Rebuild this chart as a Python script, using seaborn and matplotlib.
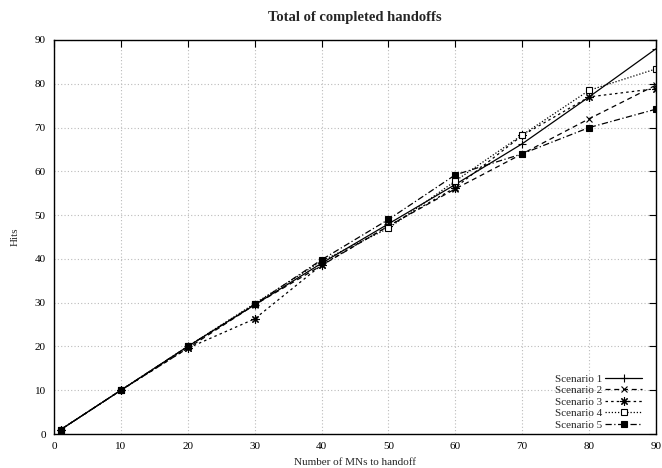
import matplotlib
matplotlib.use("Agg")
import matplotlib.pyplot as plt
import seaborn as sns
import pandas as pd

x_vals = [1, 10, 20, 30, 40, 50, 60, 70, 80, 90]
scenario1 = [1, 10, 20, 29.5, 39.0, 48.0, 57.0, 66.3, 77.0, 88.0]
scenario2 = [1, 10, 19.6, 29.5, 38.5, 47.5, 56.0, 64.0, 72.0, 79.7]
scenario3 = [1, 10, 19.6, 26.3, 38.6, 47.5, 56.3, 68.2, 77.0, 78.9]
scenario4 = [1, 10, 20, 29.8, 39.5, 47.0, 57.8, 68.3, 78.5, 83.4]
scenario5 = [1, 10, 20, 29.6, 39.8, 49.0, 59.2, 64.0, 70.0, 74.2]
labels = ["Scenario 1", "Scenario 2", "Scenario 3", "Scenario 4", "Scenario 5"]
x_ticks = [0, 10, 20, 30, 40, 50, 60, 70, 80, 90]
y_ticks = [0, 10, 20, 30, 40, 50, 60, 70, 80, 90]

sns.set_style("white")
plt.rcParams['font.family'] = ['Liberation Serif', 'DejaVu Serif']
plt.rcParams['font.size'] = 7.5

fig = plt.figure(figsize=(6.62, 4.68), dpi=100)
ax = fig.add_axes([54/662, 1-434/468, (656-54)/662, (434-40)/468])

series = [scenario1, scenario2, scenario3, scenario4, scenario5]
styles = [
    dict(ls='-', marker='+', ms=6, mfc='black'),
    dict(ls=(0, (4, 3)), marker='x', ms=5, mfc='black'),
    dict(ls=(0, (2, 2.5)), marker=(8, 2, 0), ms=6, mfc='black'),
    dict(ls=(0, (1, 1.5)), marker='s', ms=5, mfc='white'),
    dict(ls=(0, (5, 2, 1, 2)), marker='s', ms=5, mfc='black'),
]
for ys, lab, st in zip(series, labels, styles):
    df = pd.DataFrame({"x": x_vals, "y": ys})
    sns.lineplot(data=df, x="x", y="y", ax=ax, color='black', lw=0.9,
                 linestyle=st['ls'], marker=st['marker'], markersize=st['ms'],
                 markerfacecolor=st['mfc'], markeredgecolor='black',
                 markeredgewidth=0.8, label=lab)

ax.set_xlim(0, 90)
ax.set_ylim(0, 90)
ax.set_xticks(x_ticks)
ax.set_yticks(y_ticks)
ax.grid(True, color='#bbbbbb', linestyle=(0, (1, 2)), linewidth=0.8)
ax.tick_params(direction='in', length=5, width=0.8, top=True, right=True,
               labelsize=8, colors='black', pad=6)
for sp in ax.spines.values():
    sp.set_color('black')
    sp.set_linewidth(1.0)
ax.set_xlabel("Number of MNs to handoff", fontsize=8, labelpad=5)
ax.set_ylabel("Hits", fontsize=8, labelpad=11)
ax.set_title("Total of completed handoffs", fontsize=10.5, fontweight='bold', pad=14)

leg = ax.legend(loc='lower right', bbox_to_anchor=(0.988, -0.006),
                frameon=False, markerfirst=False,
                handlelength=3.3, fontsize=8, labelspacing=0.15,
                handletextpad=0.3, borderaxespad=0.2, numpoints=1)

fig.savefig("out.png", dpi=100)
